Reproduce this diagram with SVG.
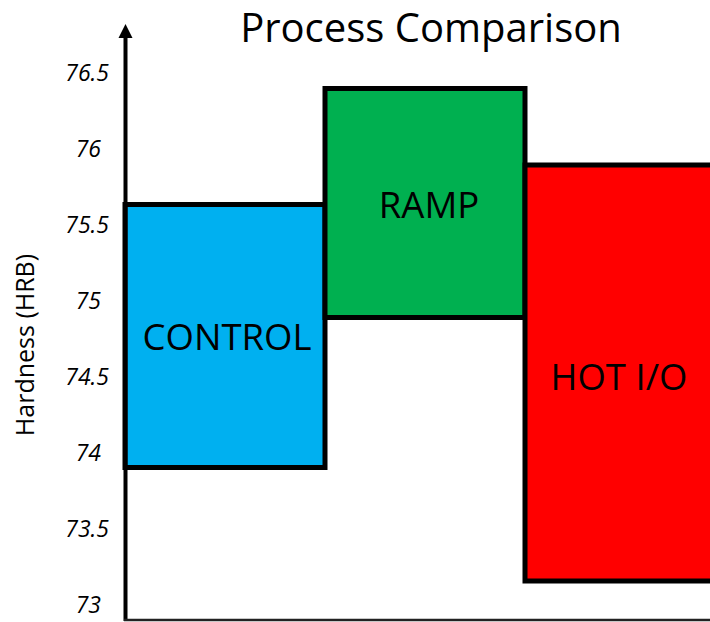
<svg xmlns="http://www.w3.org/2000/svg" width="710" height="622" viewBox="0 0 710 622">
<style>
.box{stroke:#000;stroke-width:5}
.lbl{font-family:"Open Sans","Liberation Sans",sans-serif;font-size:36.5px;fill:#000;text-anchor:middle}
.tick{font-family:"Open Sans","Liberation Sans",sans-serif;font-size:23px;font-style:italic;fill:#000;text-anchor:end}
</style>
<rect width="710" height="622" fill="#fff"/>
<text x="431" y="42" font-family="'Open Sans','Liberation Sans',sans-serif" font-size="40" text-anchor="middle">Process Comparison</text>
<g id="control"><rect class="box" x="125" y="204.5" width="200" height="263" fill="#00B0F0"/><text class="lbl" x="227" y="350">CONTROL</text></g>
<g id="ramp"><rect class="box" x="325" y="88.5" width="200" height="229" fill="#00B050"/><text class="lbl" x="429" y="218">RAMP</text></g>
<g id="hotio"><rect class="box" x="525" y="165" width="195" height="416" fill="#FF0000"/><text class="lbl" x="619" y="390">HOT I/O</text></g>
<g id="axes">
<line x1="125.5" y1="36" x2="125.5" y2="621" stroke="#000" stroke-width="4"/>
<polygon points="125.5,24 118.5,38 132.5,38" fill="#000"/>
<line x1="124" y1="620" x2="710" y2="620" stroke="#222" stroke-width="2.5"/>
</g>
<g id="ticks">
<text class="tick" x="109" y="81">76.5</text>
<text class="tick" x="101" y="157">76</text>
<text class="tick" x="109" y="233">75.5</text>
<text class="tick" x="101" y="309">75</text>
<text class="tick" x="109" y="385">74.5</text>
<text class="tick" x="101" y="461">74</text>
<text class="tick" x="109" y="537">73.5</text>
<text class="tick" x="101" y="613">73</text>
</g>
<text transform="translate(34,345) rotate(-90)" font-family="'Open Sans','Liberation Sans',sans-serif" font-size="25" text-anchor="middle">Hardness (HRB)</text>
</svg>
